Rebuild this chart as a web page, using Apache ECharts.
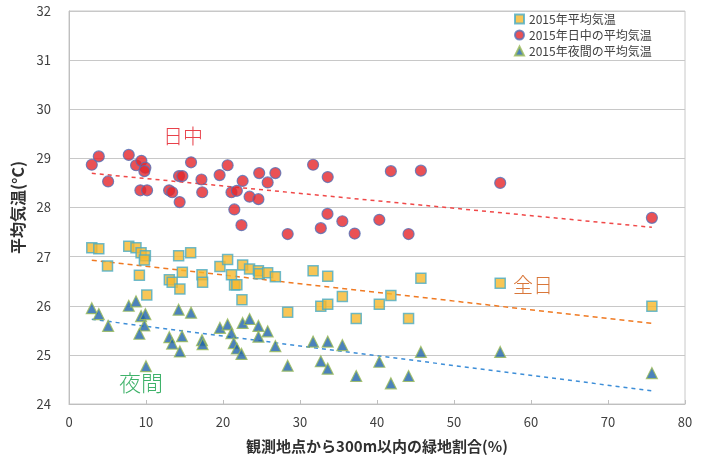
<!DOCTYPE html>
<html>
<head>
<meta charset="utf-8">
<script src="https://cdn.jsdelivr.net/npm/echarts@6/dist/echarts.min.js"></script>
<style>
html,body{margin:0;padding:0;background:#fff;}
#c{width:702px;height:463px;}
</style>
</head>
<body>
<div id="c"></div>
<script>
// x: green-area ratio (%) ; y: temperature (°C)
var dayData = [
  [2.96,28.87],[3.87,29.04],[5.08,28.53],[7.76,29.07],[8.71,28.86],[9.40,28.95],[9.92,28.81],[9.79,28.74],
  [9.27,28.35],[10.14,28.35],[13.0,28.35],[13.4,28.31],[14.37,28.11],[14.29,28.64],[14.72,28.64],[15.85,28.92],
  [17.2,28.57],[17.3,28.31],[19.56,28.66],[20.6,28.86],[21.1,28.31],[21.8,28.34],[21.47,27.96],[22.55,28.54],
  [22.4,27.64],[23.45,28.22],[24.6,28.17],[24.7,28.70],[25.8,28.51],[26.8,28.70],[28.4,27.46],[31.7,28.87],
  [33.6,28.62],[33.57,27.87],[32.7,27.58],[35.5,27.72],[37.1,27.47],[41.8,28.74],[45.7,28.75],[56.0,28.50],
  [40.3,27.75],[44.1,27.46],[75.7,27.79]
];
var allDayData = [
  [2.96,27.18],[3.87,27.16],[5.0,26.81],[7.76,27.21],[8.7,27.18],[9.36,27.08],[9.92,27.02],[9.79,26.93],
  [9.14,26.62],[10.1,26.22],[14.24,27.02],[15.8,27.08],[14.72,26.68],[13.03,26.53],[13.4,26.48],[14.4,26.34],
  [17.27,26.63],[17.35,26.48],[19.6,26.80],[20.6,26.94],[21.1,26.63],[21.5,26.42],[21.8,26.43],[22.46,26.12],
  [22.55,26.83],[23.45,26.75],[24.6,26.71],[24.7,26.65],[25.8,26.67],[26.8,26.59],[28.4,25.87],[31.7,26.71],
  [33.6,26.60],[32.7,25.99],[33.6,26.03],[35.5,26.19],[37.3,25.74],[40.3,26.03],[41.8,26.21],[44.1,25.74],
  [45.7,26.56],[56.0,26.46],[75.7,25.99]
];
var nightData = [
  [2.96,25.95],[3.87,25.83],[5.08,25.59],[7.76,26.00],[8.7,26.09],[9.36,25.79],[9.92,25.83],[9.79,25.60],
  [9.14,25.43],[10.0,24.77],[14.24,25.92],[15.85,25.86],[14.68,25.38],[13.03,25.36],[13.4,25.23],[14.4,25.07],
  [17.27,25.30],[17.35,25.22],[19.6,25.55],[20.6,25.62],[21.1,25.44],[21.4,25.24],[21.8,25.13],[22.4,25.02],
  [22.55,25.65],[23.45,25.73],[24.6,25.59],[24.6,25.37],[25.8,25.48],[26.8,25.18],[28.4,24.78],[31.7,25.27],
  [33.6,25.27],[32.7,24.87],[33.6,24.72],[35.5,25.20],[37.3,24.57],[40.3,24.86],[41.8,24.42],[44.1,24.57],
  [45.7,25.06],[56.0,25.06],[75.7,24.63]
];
var seriesNames = ['2015年平均気温','2015年日中の平均気温','2015年夜間の平均気温'];
var xTicks = {min:0, max:80, interval:10};
var yTicks = {min:24, max:32, interval:1};

// least-squares linear trendline over the data's x range
function trend(d){
  var n=d.length,sx=0,sy=0,sxx=0,sxy=0,mn=Infinity,mx=-Infinity;
  d.forEach(function(p){sx+=p[0];sy+=p[1];sxx+=p[0]*p[0];sxy+=p[0]*p[1];mn=Math.min(mn,p[0]);mx=Math.max(mx,p[0]);});
  var b=(n*sxy-sx*sy)/(n*sxx-sx*sx), a=(sy-b*sx)/n;
  return [[mn,a+b*mn],[mx,a+b*mx]];
}

var FONT = "'Noto Sans CJK JP','Noto Sans',sans-serif";
var chart = echarts.init(document.getElementById('c'), null, {renderer:'canvas'});
chart.setOption({
  animation:false,
  textStyle:{fontFamily:FONT},
  grid:{left:69, right:17, top:11, bottom:59, show:true, borderColor:'#c8c8c8', borderWidth:1},
  legend:{
    orient:'vertical', left:509, top:8, itemGap:4, itemWidth:9, itemHeight:9,
    textStyle:{fontSize:12, color:'#404040', fontFamily:FONT},
    data:[
      {name:seriesNames[0], icon:'rect'},
      {name:seriesNames[1], icon:'circle'},
      {name:seriesNames[2], icon:'triangle'}
    ]
  },
  xAxis:{
    type:'value', min:xTicks.min, max:xTicks.max, interval:xTicks.interval,
    name:'観測地点から300m以内の緑地割合(%)', nameLocation:'middle', nameGap:35,
    nameTextStyle:{fontSize:15, fontWeight:'bold', color:'#303030', fontFamily:FONT},
    axisLine:{lineStyle:{color:'#bfbfbf'}},
    axisTick:{show:true, inside:true, length:4, lineStyle:{color:'#bfbfbf'}},
    axisLabel:{fontSize:13, color:'#404040', margin:12},
    splitLine:{show:false}
  },
  yAxis:{
    type:'value', min:yTicks.min, max:yTicks.max, interval:yTicks.interval,
    name:'平均気温(°C)', nameLocation:'middle', nameGap:36, nameRotate:90,
    nameTextStyle:{fontSize:16, fontWeight:'bold', color:'#303030', fontFamily:FONT},
    axisLine:{show:true, lineStyle:{color:'#bfbfbf'}},
    axisTick:{show:false},
    axisLabel:{fontSize:13, color:'#404040', margin:18},
    splitLine:{lineStyle:{color:'#c8c8c8', width:1}}
  },
  series:[
    {name:seriesNames[0], type:'scatter', data:allDayData, symbol:'rect', symbolSize:10, z:3,
     itemStyle:{color:'#f6b82c', borderColor:'#4bacc6', borderWidth:1.5}},
    {name:seriesNames[1], type:'scatter', data:dayData, symbol:'circle', symbolSize:11, z:3,
     itemStyle:{color:'#e5262b', borderColor:'#5470b8', borderWidth:1.2}},
    {name:seriesNames[2], type:'scatter', data:nightData, symbol:'triangle', symbolSize:11, z:3,
     itemStyle:{color:'#1f63aa', borderColor:'#9bbb59', borderWidth:1.2}},
    {name:'trendDay', type:'line', data:trend(dayData), symbol:'none', z:2, silent:true,
     lineStyle:{color:'#f04848', width:1.5, type:[4,4]}},
    {name:'trendAll', type:'line', data:trend(allDayData), symbol:'none', z:2, silent:true,
     lineStyle:{color:'#f07a22', width:1.5, type:[5,4]}},
    {name:'trendNight', type:'line', data:trend(nightData), symbol:'none', z:2, silent:true,
     lineStyle:{color:'#3d8ed8', width:1.5, type:[4,4]}}
  ],
  graphic:[
    {type:'text', left:163, top:126, style:{text:'日中', fontSize:20, fill:'#e8414a', fontFamily:FONT, fontWeight:300}},
    {type:'text', left:513, top:275, style:{text:'全日', fontSize:20, fill:'#d9773a', fontFamily:FONT, fontWeight:300}},
    {type:'text', left:119, top:372, style:{text:'夜間', fontSize:22, fill:'#3fb26a', fontFamily:FONT, fontWeight:300}}
  ]
});
</script>
</body>
</html>
